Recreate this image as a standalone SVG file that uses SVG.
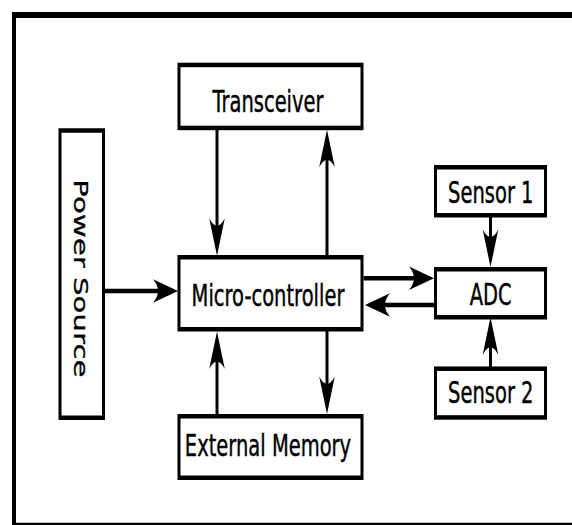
<svg xmlns="http://www.w3.org/2000/svg" width="572" height="525" viewBox="0 0 572 525">
<defs>
<marker id="ah" markerUnits="userSpaceOnUse" markerWidth="30" markerHeight="20" refX="9" refY="0" orient="auto" overflow="visible">
<path d="M25,0 L0,-7.8 Q10,0 0,7.8 Z" fill="#000"/>
</marker>
</defs>
<style>
.box{fill:#fff;stroke:#000;stroke-width:3}
.lbl{font-family:"DejaVu Sans",sans-serif;font-size:19.5px;fill:#000;stroke:#000;stroke-width:0.3;text-anchor:middle}
.conn path{fill:none;stroke:#000;stroke-width:3;marker-end:url(#ah)}
</style>
<rect width="572" height="525" fill="#fff"/>
<g transform="scale(1,1.5)">
<rect id="frame" x="14" y="10" width="600" height="340.5" fill="none" stroke="#000" stroke-width="4"/>
<g id="transceiver"><rect class="box" x="179" y="43.3" width="183" height="42"/><text class="lbl" x="268" y="74.5">Transceiver</text></g>
<g id="power-source"><rect class="box" x="60" y="87" width="43.5" height="191.5"/><text class="lbl" transform="translate(74,185.6) rotate(90)">Power Source</text></g>
<g id="micro-controller"><rect class="box" x="179" y="171.5" width="183" height="48"/><text class="lbl" x="268" y="204">Micro-controller</text></g>
<g id="external-memory"><rect class="box" x="179" y="277.5" width="183" height="41"/><text class="lbl" x="268" y="304">External Memory</text></g>
<g id="sensor1"><rect class="box" x="435.5" y="111.5" width="110" height="32"/><text class="lbl" x="490.8" y="135.5">Sensor 1</text></g>
<g id="adc"><rect class="box" x="435.5" y="179.5" width="110" height="32"/><text class="lbl" x="490.7" y="203.3">ADC</text></g>
<g id="sensor2"><rect class="box" x="435.5" y="245.8" width="110" height="32.5"/><text class="lbl" x="490.8" y="268.9">Sensor 2</text></g>
<g id="connectors" class="conn">
<path d="M217,85.3 V154.5"/>
<path d="M327,171.5 V102.5"/>
<path d="M103.5,194 H162"/>
<path d="M363.5,185.5 H418"/>
<path d="M435.5,203.3 H381"/>
<path d="M490.5,143 V162"/>
<path d="M490.5,245.8 V227.5"/>
<path d="M217,277.5 V237"/>
<path d="M327,219.5 V260"/>
</g>
</g>
</svg>
